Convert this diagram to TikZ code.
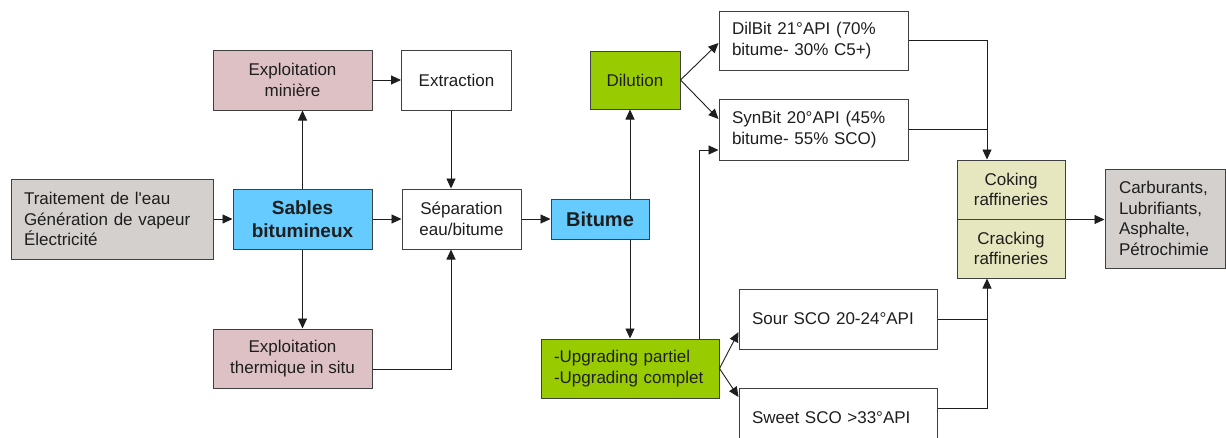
\documentclass[tikz,border=0pt]{standalone}
\usepackage{fontspec}
\newfontfamily\arialf{Liberation Sans}
\usetikzlibrary{arrows.meta}
\definecolor{boxline}{HTML}{404040}
\definecolor{greyfill}{HTML}{D4D0CE}
\definecolor{pinkfill}{HTML}{DEC1C5}
\definecolor{bluefill}{HTML}{66CCFF}
\definecolor{greenfill}{HTML}{99CC00}
\definecolor{yellowfill}{HTML}{E6E6BF}
\definecolor{ink}{HTML}{1E1E1E}

\tikzset{
  box/.style={draw=boxline, line width=1pt, inner sep=0pt, text=ink,
    font=\arialf\fontsize{17}{20.5}\selectfont, align=center},
  sz/.style 2 args={minimum width=#1pt, minimum height=#2pt},
  lbox/.style={box, align=left, inner xsep=13pt},
  boldtxt/.style={font=\arialf\bfseries\fontsize{19}{23}\selectfont},
  link/.style={draw=ink, line width=0.9pt},
  arr/.style={link, -{Triangle[length=10pt,width=9pt]}}
}

\begin{document}
\begin{tikzpicture}[x=1pt,y=-1pt]
\clip (0,0) rectangle (1226,437);
\fill[white] (0,0) rectangle (1226,437);

% left column: resources and extraction methods
\node[lbox, fill=greyfill, text width=176pt, minimum height=80pt] (trait) at (112,219)
  {Traitement de l'eau\\Génération de vapeur\\Électricité};
\node[box, boldtxt, fill=bluefill, sz={139}{60}] (sables) at (302.5,219) {Sables\\bitumineux};
\node[box, fill=pinkfill, sz={159}{60}] (miniere) at (292.5,80) {Exploitation\\minière};
\node[box, fill=pinkfill, sz={159}{59}] (thermique) at (292.5,358.5) {Exploitation\\thermique in situ};
\node[box, fill=white, sz={110}{60}] (extract) at (456.5,80) {Extraction};
\node[box, fill=white, sz={119}{60}] (separ) at (461.5,219) {Séparation\\eau/bitume};

% bitumen and its treatment
\node[box, font=\arialf\bfseries\fontsize{20}{24}\selectfont, fill=bluefill, sz={98}{40}] (bitume) at (600,219) {Bitume};
\node[box, fill=greenfill, sz={90}{58}] (dilution) at (635,80) {Dilution};
\node[lbox, fill=greenfill, text width=152pt, minimum height=59pt] (upgr) at (630,368.5)
  {-Upgrading partiel\\-Upgrading complet};

% products
\node[lbox, fill=white, text width=163pt, minimum height=59pt] (dilbit) at (813.5,40.5)
  {DilBit 21°API (70\%\\bitume- 30\% C5+)};
\node[lbox, fill=white, text width=163pt, minimum height=61pt] (synbit) at (813.5,129.5)
  {SynBit 20°API (45\%\\bitume- 55\% SCO)};
\node[lbox, fill=white, text width=172pt, minimum height=60pt] (sour) at (838,319)
  {Sour SCO 20-24°API};
\node[lbox, fill=white, text width=172pt, minimum height=60pt] (sweet) at (838,418)
  {Sweet SCO >33°API};

% refining and end uses
\node[box, fill=yellowfill, sz={108}{59}] (coking) at (1011,189.5) {Coking\\raffineries};
\node[box, fill=yellowfill, sz={108}{59}] (cracking) at (1011,248.5) {Cracking\\raffineries};
\node[lbox, fill=greyfill, inner xsep=14pt, text width=92pt, minimum height=99pt] (carbu) at (1165,218.5)
  {Carburants,\\Lubrifiants,\\Asphalte,\\Pétrochimie};

% routing columns for vertical connectors
\coordinate (colA) at (451,0);
\coordinate (colB) at (630,0);
\coordinate (colC) at (699,0);
\coordinate (colD) at (987,0);

% connectors
\draw[arr] (trait.east) -- (sables.west);
\draw[arr] (sables.north) -- (sables.north |- miniere.south);
\draw[arr] (sables.south) -- (sables.south |- thermique.north);
\draw[arr] (sables.east) -- (separ.west);
\draw[arr] (miniere.east) -- (extract.west);
\draw[arr] (extract.south -| colA) -- (separ.north -| colA);
\draw[arr] ([yshift=-10.5pt]thermique.east) -| (separ.south -| colA);
\draw[arr] (separ.east) -- (bitume.west);
\draw[arr] (bitume.north -| colB) -- (dilution.south -| colB);
\draw[arr] (bitume.south -| colB) -- (upgr.north -| colB);
\draw[arr] (dilution.east) -- ([yshift=-2.5pt]dilbit.west);
\draw[arr] (dilution.east) -- ([yshift=10.5pt]synbit.west);
\draw[arr] (upgr.north -| colC) |- ([yshift=-20.5pt]synbit.west);
\draw[arr] (upgr.east) -- ([yshift=-13pt]sour.west);
\draw[arr] (upgr.east) -- ([yshift=21pt]sweet.west);
\draw[arr] (dilbit.east) -| (coking.north -| colD);
\draw[link] (synbit.east) -- (synbit.east -| colD);
\draw[arr] (sour.east) -| (cracking.south -| colD);
\draw[link] ([yshift=10pt]sweet.east) -| (sour.east -| colD);
\draw[arr] (coking.south east) -- (coking.south east -| carbu.west);
\end{tikzpicture}
\end{document}
